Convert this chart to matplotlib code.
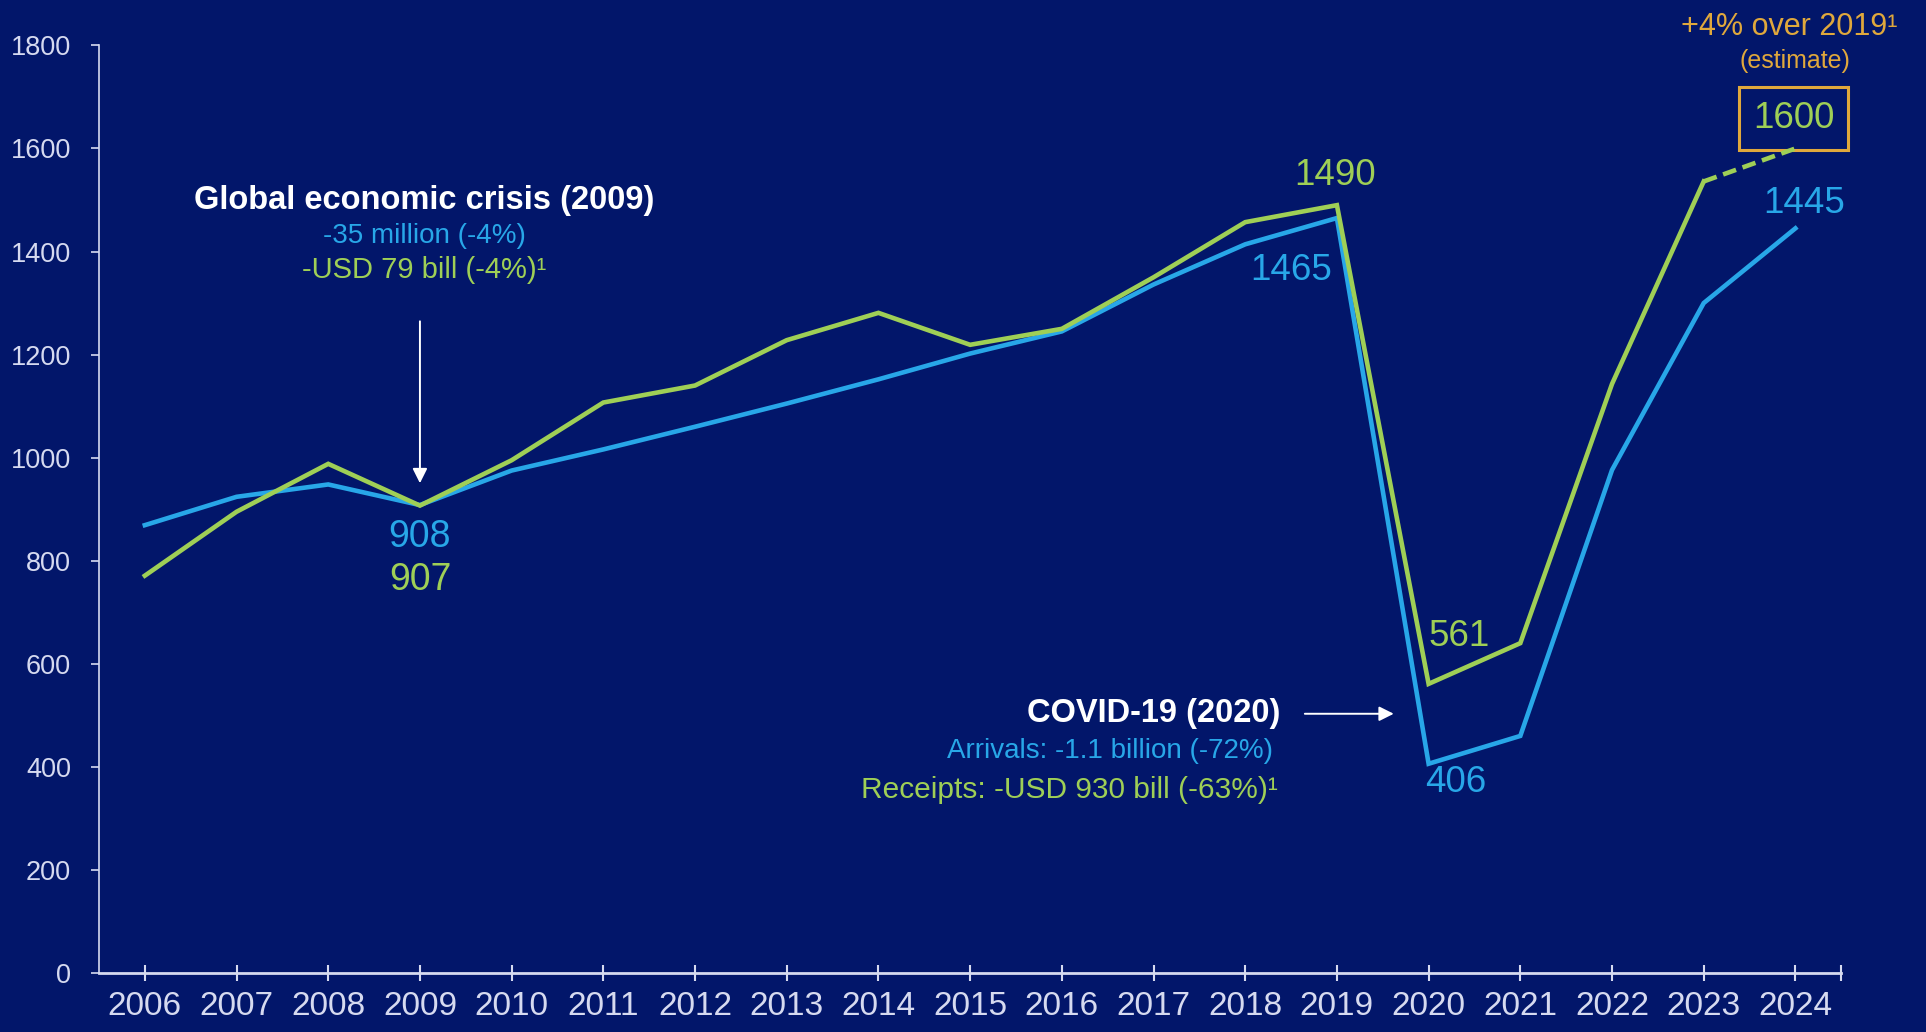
import numpy as np
import matplotlib.pyplot as plt

years = list(range(2006, 2025))
arrivals = [869, 924, 948, 908, 975, 1016, 1060, 1105, 1152, 1202, 1245,
            1336, 1414, 1465, 406, 460, 976, 1300, 1445]
receipts = [771, 895, 988, 907, 995, 1107, 1140, 1228, 1281, 1219, 1250,
            1350, 1457, 1490, 561, 640, 1143, 1536]
receipts_est_years = [2023, 2024]
receipts_est = [1536, 1600]

bg = '#02166a'
blue = '#28a7e8'
green = '#9fcf56'
gold = '#e0a83c'
axcol = '#d6daf0'

plt.rcParams['font.family'] = ['Liberation Sans', 'DejaVu Sans']

fig = plt.figure(figsize=(19.26, 10.32), dpi=100, facecolor=bg)
ax = fig.add_axes([0.0514, 0.0572, 0.9046, 0.8988])
ax.set_facecolor(bg)

ax.plot(years, arrivals, color=blue, lw=3.3, solid_joinstyle='miter', zorder=3)
ax.plot(years[:len(receipts)], receipts, color=green, lw=3.3, solid_joinstyle='miter', zorder=4)
ax.plot(receipts_est_years, receipts_est, color=green, lw=3.3, ls=(0, (3, 1.5)), zorder=4)

ax.set_xlim(2005.5, 2024.5)
ax.set_ylim(0, 1800)
ax.set_xticks(years)
ax.set_yticks(range(0, 1801, 200))
ax.tick_params(axis='x', colors=axcol, labelsize=24, direction='inout', length=12, width=1.5, pad=7)
ax.tick_params(axis='y', colors=axcol, labelsize=19.5, direction='out', length=6, width=1.2, pad=14)
for s in ['top', 'right']:
    ax.spines[s].set_visible(False)
ax.spines['left'].set_color(axcol)
ax.spines['left'].set_linewidth(1.2)
ax.spines['bottom'].set_color(axcol)
ax.spines['bottom'].set_linewidth(2)
ax.plot([2024.5], [0], marker='|', color=axcol, ms=12, mew=1.5, clip_on=False)

# global economic crisis
ax.text(2009.05, 1500, 'Global economic crisis (2009)', color='white', fontsize=23.5,
        fontweight='bold', ha='center', va='center')
ax.text(2009.05, 1431, '-35 million (-4%)', color=blue, fontsize=20, ha='center', va='center')
ax.text(2009.05, 1365, '-USD 79 bill (-4%)¹', color=green, fontsize=21, ha='center', va='center')
ax.annotate('', xy=(2009, 945), xytext=(2009, 1270),
            arrowprops=dict(arrowstyle='-|>', color='white', lw=1.4, mutation_scale=22))
ax.text(2009.0, 846, '908', color=blue, fontsize=27, ha='center', va='center')
ax.text(2009.0, 762, '907', color=green, fontsize=27, ha='center', va='center')

# covid
ax.text(2018.38, 503, 'COVID-19 (2020)', color='white', fontsize=23.5,
        fontweight='bold', ha='right', va='center')
ax.text(2018.3, 430, 'Arrivals: -1.1 billion (-72%)', color=blue, fontsize=20, ha='right', va='center')
ax.text(2018.36, 356, 'Receipts: -USD 930 bill (-63%)¹', color=green, fontsize=21.5, ha='right', va='center')
ax.annotate('', xy=(2019.65, 503), xytext=(2018.62, 503),
            arrowprops=dict(arrowstyle='-|>', color='white', lw=1.4, mutation_scale=22))

ax.text(2018.98, 1548, '1490', color=green, fontsize=26.5, ha='center', va='center')
ax.text(2018.5, 1363, '1465', color=blue, fontsize=26.5, ha='center', va='center')
ax.text(2020.33, 653, '561', color=green, fontsize=26.5, ha='center', va='center')
ax.text(2020.3, 370, '406', color=blue, fontsize=26.5, ha='center', va='center')
ax.text(2024.1, 1494, '1445', color=blue, fontsize=26.5, ha='center', va='center')

ax.text(2023.98, 1658, '1600', color=green, fontsize=26.5, ha='center', va='center',
        bbox=dict(boxstyle='square,pad=0.38', fc='none', ec=gold, lw=2.2))
ax.text(2023.93, 1836, '+4% over 2019¹', color=gold, fontsize=22, ha='center', va='center',
        clip_on=False)
ax.text(2024.0, 1769, '(estimate)', color=gold, fontsize=18, ha='center', va='center')

fig.savefig('out.png', dpi=100, facecolor=bg)
